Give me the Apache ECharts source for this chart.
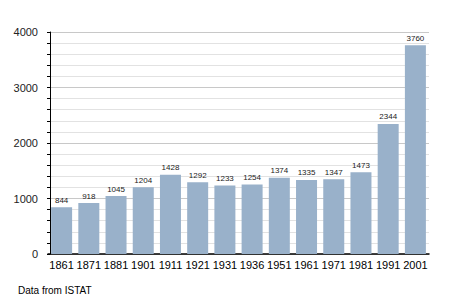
<!DOCTYPE html>
<html><head><meta charset="utf-8">
<script src="https://cdn.jsdelivr.net/npm/echarts@6/dist/echarts.min.js"></script>
<style>html,body{margin:0;padding:0;background:#fff}#c{width:455px;height:303px}</style>
</head><body><div id="c"></div>
<script>
const categories = ['1861','1871','1881','1901','1911','1921','1931','1936','1951','1961','1971','1981','1991','2001'];
const population = [844, 918, 1045, 1204, 1428, 1292, 1233, 1254, 1374, 1335, 1347, 1473, 2344, 3760];
const yTicks = [0, 1000, 2000, 3000, 4000];
const sourceNote = 'Data from ISTAT';

const chart = echarts.init(document.getElementById('c'), null, {renderer: 'svg'});
chart.setOption({
  animation: false,
  backgroundColor: '#fff',
  textStyle: {fontFamily: 'Liberation Sans, Arial, sans-serif'},
  grid: {left: 48, top: 32, width: 381, height: 222, containLabel: false},
  graphic: [{type: 'text', left: 18, top: 285, style: {text: sourceNote, font: '10px Liberation Sans, Arial, sans-serif', fill: '#000'}}],
  xAxis: {
    type: 'category', data: categories, boundaryGap: true,
    axisLine: {lineStyle: {color: '#000', width: 1.5}},
    axisTick: {show: false},
    axisLabel: {color: '#000', fontSize: 11, margin: 5, interval: 0}
  },
  yAxis: {
    type: 'value', min: yTicks[0], max: yTicks[yTicks.length - 1], interval: 1000, offset: -2,
    axisLine: {show: true, lineStyle: {color: '#000', width: 1}},
    axisTick: {show: true, length: 3, lineStyle: {color: '#000'}},
    minorTick: {show: true, splitNumber: 5, length: 3, lineStyle: {color: '#000'}},
    axisLabel: {color: '#222', fontSize: 11, margin: 12, formatter: v => String(v)},
    splitLine: {show: true, lineStyle: {color: '#c8c8c8', width: 1}},
    minorSplitLine: {show: true, lineStyle: {color: '#e2e2e2', width: 1}}
  },
  series: [{
    type: 'bar', data: population, barWidth: 21,
    itemStyle: {color: '#99b1ca'},
    label: {show: true, position: 'top', fontSize: 8, color: '#222', distance: 3}
  }]
});
</script></body></html>
